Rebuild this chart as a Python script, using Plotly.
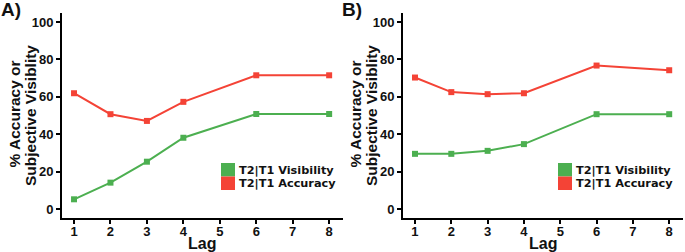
import plotly.graph_objects as go

lags = [1, 2, 3, 4, 6, 8]
a_visibility = [5.2, 14.1, 25.3, 38.1, 50.8, 50.8]
a_accuracy = [61.9, 50.7, 47.1, 57.3, 71.5, 71.5]
b_visibility = [29.5, 29.5, 31.1, 34.7, 50.7, 50.7]
b_accuracy = [70.3, 62.5, 61.4, 61.9, 76.7, 74.2]
x_ticks = [1, 2, 3, 4, 5, 6, 7, 8]
y_ticks = [0, 20, 40, 60, 80, 100]
series_names = ["T2|T1 Visibility", "T2|T1 Accuracy"]
y_title_lines = ["% Accuracy or", "Subjective Visiblity"]

GREEN = "#4CAF50"
RED = "#F44336"
W, H = 685, 252
FONT = "Liberation Sans"

fig = go.Figure()
for xa, ya, vis, acc in [("x", "y", a_visibility, a_accuracy), ("x2", "y2", b_visibility, b_accuracy)]:
    for vals, col, nm in [(vis, GREEN, series_names[0]), (acc, RED, series_names[1])]:
        fig.add_trace(go.Scatter(x=lags, y=vals, xaxis=xa, yaxis=ya, mode="lines+markers",
                                 line=dict(color=col, width=2),
                                 marker=dict(symbol="square", size=6, color=col),
                                 name=nm, showlegend=False, hoverinfo="skip"))

def px_x(p):
    return p / W

def px_y(p):
    return (H - p) / H

tickfont = dict(family=FONT, size=13, color="#111", weight="bold")
common_x = dict(range=[0.67, 8.38], tickvals=x_ticks, showline=True, linewidth=2, linecolor="black",
                ticks="outside", ticklen=4, tickwidth=2, tickcolor="black", showgrid=False,
                zeroline=False, tickfont=tickfont, ticklabelstandoff=-4)
common_y = dict(range=[-4.8, 104.8], tickvals=y_ticks, showline=True, linewidth=2, linecolor="black",
                ticks="outside", ticklen=4, tickwidth=2, tickcolor="black", showgrid=False,
                zeroline=False, tickfont=tickfont)

fig.update_layout(
    width=W, height=H, margin=dict(l=0, r=0, t=0, b=0),
    plot_bgcolor="white", paper_bgcolor="white",
    xaxis=dict(domain=[px_x(62), px_x(343)], anchor="y", **common_x),
    yaxis=dict(domain=[px_y(218), px_y(13)], anchor="x", **common_y),
    xaxis2=dict(domain=[px_x(403), px_x(683)], anchor="y2", **common_x),
    yaxis2=dict(domain=[px_y(218), px_y(13)], anchor="x2", **common_y),
    font=dict(family=FONT),
)

shapes = []
annotations = []
for off_plot, off_leg, label in [(0, 0, "A)"), (341, 337, "B)")]:
    # legend swatches
    shapes.append(dict(type="rect", xref="paper", yref="paper",
                       x0=px_x(221 + off_leg), x1=px_x(235 + off_leg), y0=px_y(176.5), y1=px_y(163),
                       fillcolor=GREEN, line=dict(width=0)))
    shapes.append(dict(type="rect", xref="paper", yref="paper",
                       x0=px_x(221 + off_leg), x1=px_x(235 + off_leg), y0=px_y(190), y1=px_y(176.5),
                       fillcolor=RED, line=dict(width=0)))
    for nm, yc in [(series_names[0], 170), (series_names[1], 183)]:
        annotations.append(dict(text="<b>%s</b>" % nm, xref="paper", yref="paper",
                                x=px_x(237 + off_leg), y=px_y(yc), xanchor="left", yanchor="middle",
                                showarrow=False, font=dict(family="DejaVu Sans", size=11.3, color="#111")))
    # panel label
    annotations.append(dict(text="<b>%s</b>" % label, xref="paper", yref="paper",
                            x=px_x(-1 + off_plot), y=px_y(9.5), xanchor="left", yanchor="middle",
                            showarrow=False, font=dict(family=FONT, size=19, color="#111")))
    # y title, two lines
    for line, xc, yc in [(y_title_lines[0], 14.5, 114), (y_title_lines[1], 30, 116)]:
        annotations.append(dict(text="<b>%s</b>" % line, xref="paper", yref="paper",
                                x=px_x(xc + off_plot), y=px_y(yc), xanchor="center", yanchor="middle",
                                textangle=-90, showarrow=False,
                                font=dict(family=FONT, size=15.5, color="#111")))
    # x title
    annotations.append(dict(text="<b>Lag</b>", xref="paper", yref="paper",
                            x=px_x(202 + off_plot), y=px_y(243), xanchor="center", yanchor="middle",
                            showarrow=False, font=dict(family=FONT, size=16, color="#111")))

fig.update_layout(shapes=shapes, annotations=annotations)
fig.write_html("out.html", config={"displayModeBar": False},
               post_script="document.body.style.margin='0';document.body.style.overflow='hidden';")
